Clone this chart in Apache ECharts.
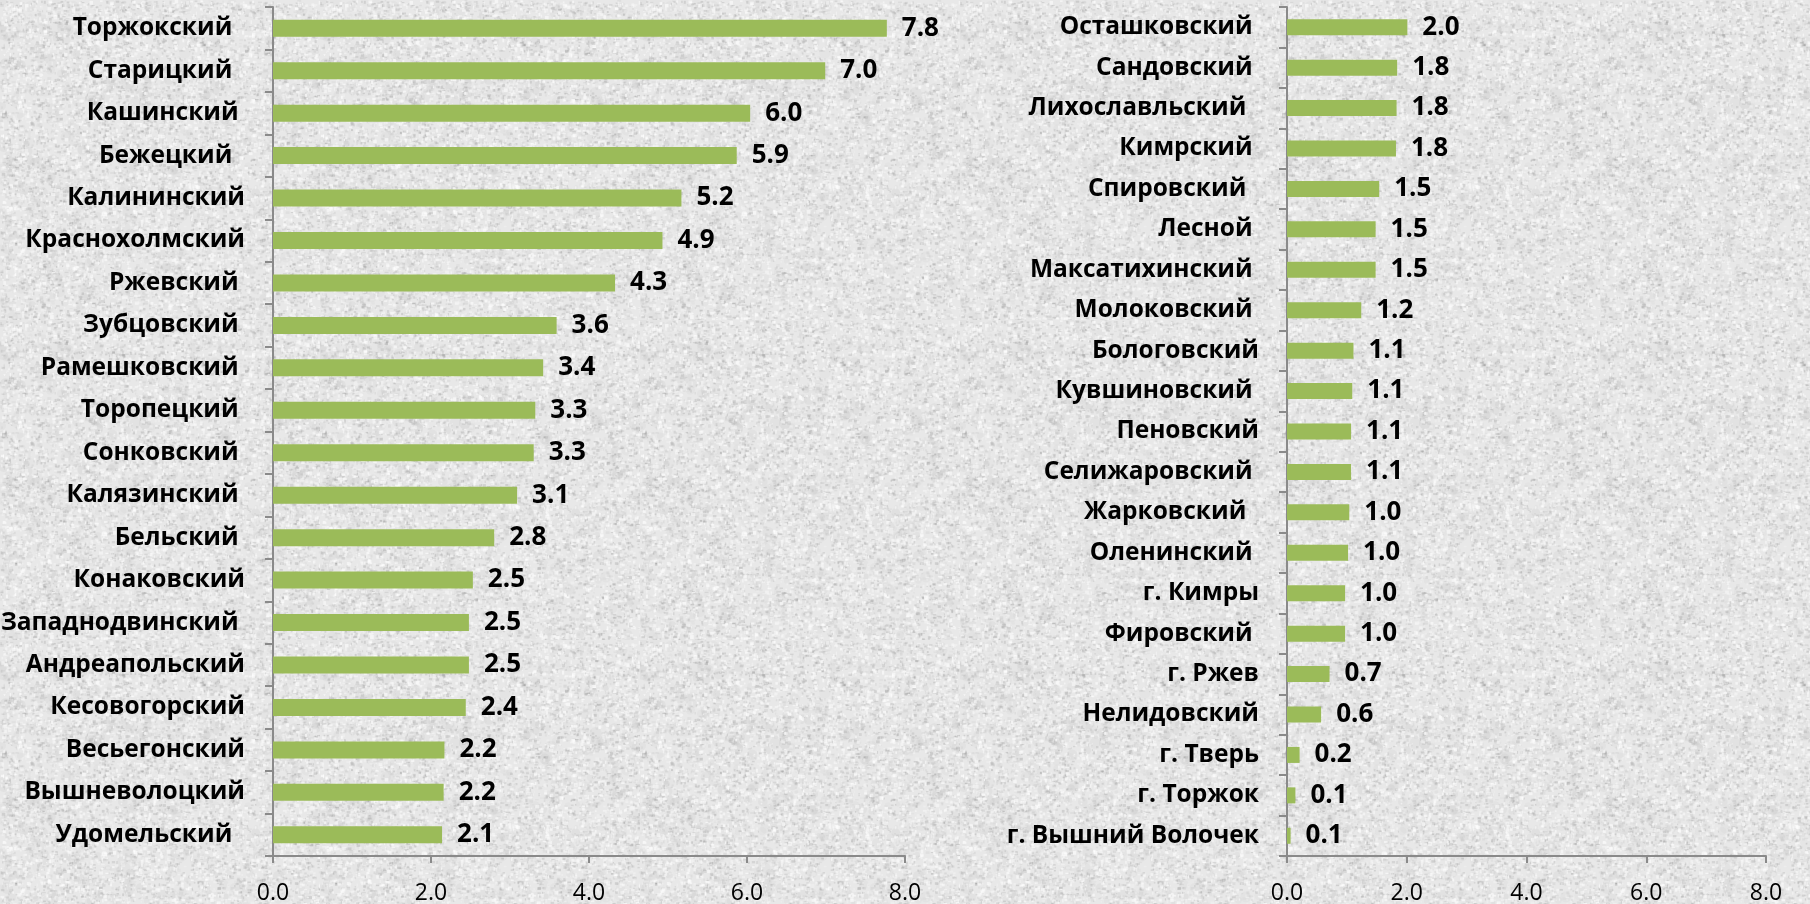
<!DOCTYPE html>
<html>
<head>
<meta charset="utf-8">
<script src="https://cdn.jsdelivr.net/npm/echarts@6/dist/echarts.min.js"></script>
<style>
    html, body { margin: 0; padding: 0; }
    #chart { width: 1810px; height: 904px; }
</style>
</head>
<body>
<div id="chart"></div>
<script>
// левая часть — районы с большими значениями
const leftNames = [
    'Торжокский  ', 'Старицкий  ', 'Кашинский ', 'Бежецкий  ', 'Калининский',
    'Краснохолмский', 'Ржевский ', 'Зубцовский ', 'Рамешковский ', 'Торопецкий ',
    'Сонковский ', 'Калязинский ', 'Бельский ', 'Конаковский', 'Западнодвинский ',
    'Андреапольский', 'Кесовогорский', 'Весьегонский', 'Вышневолоцкий', 'Удомельский  '
];
const leftValues = [
    7.77, 6.99, 6.04, 5.87, 5.17,
    4.93, 4.33, 3.59, 3.42, 3.32,
    3.30, 3.09, 2.80, 2.53, 2.48,
    2.48, 2.44, 2.17, 2.16, 2.14
];

// правая часть — остальные районы и города
const rightNames = [
    'Осташковский ', 'Сандовский ', 'Лихославльский  ', 'Кимрский ', 'Спировский  ',
    'Лесной ', 'Максатихинский ', 'Молоковский ', 'Бологовский', 'Кувшиновский ',
    'Пеновский', 'Селижаровский ', 'Жарковский  ', 'Оленинский ', 'г. Кимры',
    'Фировский ', 'г. Ржев', 'Нелидовский', 'г. Тверь', 'г. Торжок', 'г. Вышний Волочек'
];
const rightValues = [
    2.01, 1.84, 1.83, 1.82, 1.54,
    1.48, 1.48, 1.24, 1.11, 1.09,
    1.07, 1.07, 1.04, 1.02, 0.97,
    0.97, 0.71, 0.57, 0.21, 0.14, 0.06
];

const axisMin = 0;
const axisMax = 8;
const axisStep = 2;

// фон "под камень"
function makeTexture() {
    let c = document.createElement('canvas');
    c.width = 320;
    c.height = 320;
    let ctx = c.getContext('2d');
    ctx.fillStyle = '#e8e8e8';
    ctx.fillRect(0, 0, 320, 320);
    let seed = 12345;
    function rnd() {
        seed = (seed * 1664525 + 1013904223) % 4294967296;
        return seed / 4294967296;
    }
    // пятна
    for (let i = 0; i < 900; i++) {
        let a = 0.02 + rnd() * 0.05;
        ctx.fillStyle = 'rgba(120,120,120,' + a + ')';
        ctx.beginPath();
        ctx.arc(rnd() * 320, rnd() * 320, 2 + rnd() * 4, 0, Math.PI * 2);
        ctx.fill();
    }
    for (let i = 0; i < 6500; i++) {
        let a = 0.05 + rnd() * 0.22;
        ctx.fillStyle = 'rgba(140,140,140,' + a + ')';
        ctx.fillRect(rnd() * 320, rnd() * 320, 1 + rnd() * 3, 1 + rnd() * 2);
    }
    for (let i = 0; i < 5000; i++) {
        let a = 0.2 + rnd() * 0.4;
        ctx.fillStyle = 'rgba(255,255,255,' + a + ')';
        ctx.fillRect(rnd() * 320, rnd() * 320, 1 + rnd() * 3, 1 + rnd() * 3);
    }
    return c;
}

var myChart = echarts.init(document.getElementById('chart'));

const axisColor = '#8a8a8a';
const textFont = 'Open Sans';

function valueAxis(gridIndex) {
    return {
        type: 'value',
        gridIndex: gridIndex,
        min: axisMin,
        max: axisMax,
        interval: axisStep,
        axisLine: { show: true, lineStyle: { color: axisColor, width: 2 } },
        axisTick: { show: true, length: 7, lineStyle: { color: axisColor, width: 2 } },
        splitLine: { show: false },
        axisLabel: {
            margin: 26,
            color: '#000',
            fontFamily: textFont,
            fontSize: 23,
            formatter: v => v.toFixed(1)
        }
    };
}

function categoryAxis(gridIndex, names) {
    return {
        type: 'category',
        gridIndex: gridIndex,
        data: names,
        inverse: true,
        axisLine: { show: true, lineStyle: { color: axisColor, width: 2 } },
        axisTick: { show: true, length: 8, lineStyle: { color: axisColor, width: 2 } },
        axisLabel: {
            margin: 28,
            color: '#000',
            fontFamily: textFont,
            fontWeight: 'bold',
            fontSize: 24.5
        }
    };
}

function barSeries(index, values, width) {
    return {
        type: 'bar',
        xAxisIndex: index,
        yAxisIndex: index,
        data: values,
        barWidth: width,
        itemStyle: { color: '#9bbb59' },
        label: {
            show: true,
            position: 'right',
            distance: 15,
            color: '#000',
            fontFamily: textFont,
            fontWeight: 'bold',
            fontSize: 26,
            formatter: p => p.value.toFixed(1)
        }
    };
}

var option = {
    backgroundColor: { image: makeTexture(), repeat: 'repeat' },
    animation: false,
    grid: [
        { left: 273, top: 7, width: 632, height: 849, outerBoundsMode: 'none' },
        { left: 1287, top: 7, width: 479, height: 849, outerBoundsMode: 'none' }
    ],
    xAxis: [valueAxis(0), valueAxis(1)],
    yAxis: [categoryAxis(0, leftNames), categoryAxis(1, rightNames)],
    series: [
        barSeries(0, leftValues, 17),
        barSeries(1, rightValues, 16)
    ]
};

myChart.setOption(option);
</script>
</body>
</html>
